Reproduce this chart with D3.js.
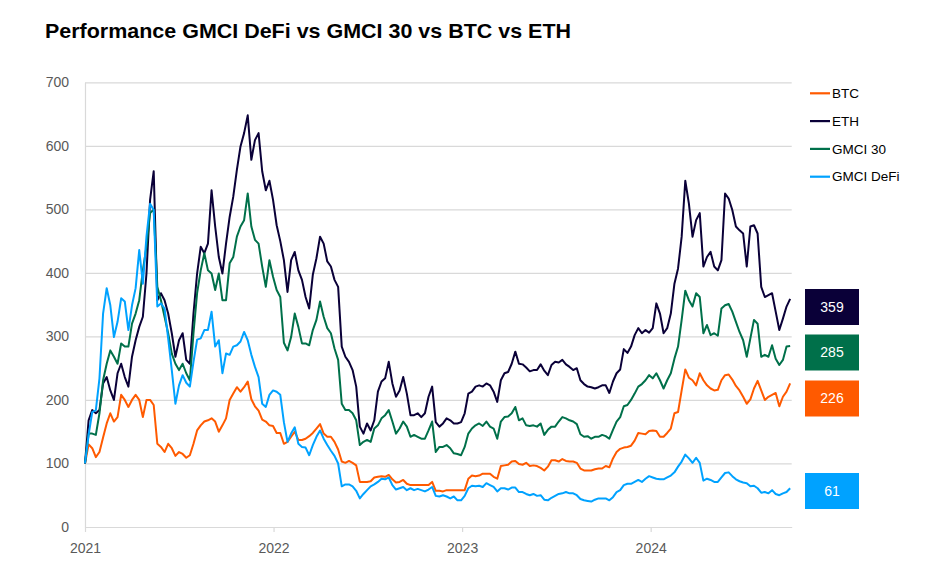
<!DOCTYPE html>
<html><head><meta charset="utf-8">
<script src="https://cdn.jsdelivr.net/npm/d3@7"></script>
<style>body{margin:0;background:#fff}svg{display:block}</style>
</head><body>
<svg id="chart" width="930" height="573"></svg>
<script>
// ---------------- DATA ----------------
const titleText = "Performance GMCI DeFi vs GMCI 30 vs BTC vs ETH";
const startDate = "2021-01-01";   // first weekly observation (indexed to 100)
const endDate = "2024-09-30";     // end of x axis
const stepDays = 7;               // weekly observations
const seriesNames = ["BTC", "ETH", "GMCI 30", "GMCI DeFi"];
const seriesColors = ["#ff5a00", "#0a0038", "#00704a", "#00a2ff"];

const btc = [
100,130,124,110,118,141,163,179,166,173,
208,200,189,200,208,200,173,200,200,192,
131,126,118,131,124,112,118,115,109,113,
131,152,160,166,168,171,166,150,160,171,
200,210,220,213,220,229,201,190,183,169,
166,160,159,148,148,131,134,142,150,137,
137,139,143,148,155,162,147,142,142,134,
122,103,101,104,101,97,71,71,71,72,
78,79,80,79,82,75,70,71,74,68,
66,66,66,66,66,66,71,57,57,56,
58,58,58,58,58,58,76,81,80,81,
84,84,84,79,76,96,97,98,103,104,
99,98,101,96,97,96,93,89,95,105,
105,103,107,104,103,103,101,92,89,89,
89,91,92,92,96,94,108,118,123,125,
126,128,136,148,147,146,151,152,151,142,
142,148,155,179,181,215,248,235,231,223,
242,231,223,218,215,216,231,239,240,232,
222,215,205,194,201,218,230,215,200,205,
208,211,190,205,213,226];

const eth = [
100,168,184,179,184,226,236,215,200,242,
257,236,221,268,294,315,331,399,515,560,
357,368,357,336,305,268,294,305,263,257,
336,399,441,431,446,530,473,425,399,446,
488,520,562,599,620,648,578,609,620,560,
530,545,515,475,450,420,370,420,433,404,
389,362,344,397,423,457,446,418,410,389,
378,284,268,260,247,221,158,147,163,152,
168,213,229,234,260,226,205,215,236,210,
176,176,179,173,179,205,221,165,158,163,
171,168,163,163,165,179,210,213,221,223,
221,226,223,213,197,231,242,244,257,276,
257,256,251,245,247,247,256,246,239,255,
260,259,263,256,252,247,250,231,225,221,
220,218,220,223,223,211,229,242,248,280,
274,284,302,313,305,310,306,313,352,336,
305,313,336,383,407,457,545,509,457,483,
494,410,425,433,410,404,420,525,517,499,
473,467,462,410,473,475,462,378,362,365,
368,339,310,328,347,359];

const gmci30 = [
100,147,147,145,179,231,257,278,268,257,
289,284,284,320,336,357,404,441,494,500,
378,357,331,305,273,257,247,257,242,231,
305,368,404,431,404,399,373,399,357,357,
415,425,457,473,483,525,473,452,446,410,
378,420,394,373,362,290,278,299,336,315,
289,289,286,310,326,355,331,313,305,281,
263,194,184,184,179,168,129,134,137,134,
155,160,171,176,184,166,147,155,166,158,
142,145,142,139,139,152,166,118,126,126,
129,124,116,115,113,126,147,155,160,163,
159,166,158,155,139,166,173,174,179,189,
168,171,160,159,160,158,163,145,153,158,
158,166,173,171,168,166,162,146,142,143,
139,142,142,145,143,139,153,166,173,190,
192,200,210,221,225,231,239,234,242,231,
218,231,242,265,284,326,372,357,347,368,
362,305,318,302,305,301,344,349,351,339,
323,307,294,268,297,326,320,268,271,268,
286,265,255,263,284,285];

const gmciDefi = [
100,145,181,184,234,336,376,349,299,323,
360,355,310,349,376,436,383,457,509,499,
347,352,344,297,247,194,223,239,227,221,
260,295,297,310,310,339,284,294,242,273,
271,284,286,292,307,294,271,252,236,194,
189,208,215,213,208,165,134,147,157,131,
126,125,113,129,142,152,139,129,120,112,
100,64,67,67,64,57,45,52,58,64,
67,71,76,75,78,66,59,61,63,58,
61,58,60,58,56,59,63,49,48,50,
48,45,48,42,42,49,61,65,64,65,
63,69,66,63,56,61,61,59,62,62,
55,55,52,50,52,49,50,43,42,46,
49,52,53,55,53,53,50,44,42,41,
40,43,45,45,45,42,47,55,58,66,
68,68,71,74,71,76,80,78,76,75,
75,78,81,86,95,103,114,108,101,109,
101,73,76,74,71,71,78,85,86,80,
75,72,70,69,64,65,61,54,55,53,
58,52,50,53,55,61];

const yTicks = [0, 100, 200, 300, 400, 500, 600, 700];
const xTickLabels = ["2021", "2022", "2023", "2024"];
const lastValueLabels = ["226", "359", "285", "61"];   // BTC, ETH, GMCI 30, GMCI DeFi

// ---------------- LAYOUT ----------------
const W = 930, H = 573;
const plot = {left: 85, right: 791.7, top: 82.3, bottom: 527};
const boxCenters = {"ETH": 307, "GMCI 30": 352.5, "BTC": 398.5, "GMCI DeFi": 491};
const drawOrder = ["BTC", "ETH", "GMCI 30", "GMCI DeFi"];
const gridColor = "#d9d9d9";
const labelFont = "'Liberation Sans', Arial, sans-serif";

const svg = d3.select("#chart");
const parse = d3.utcParse("%Y-%m-%d");
const t0 = parse(startDate);
const dates = btc.map((_, i) => d3.utcDay.offset(t0, i * stepDays));
const values = {"BTC": btc, "ETH": eth, "GMCI 30": gmci30, "GMCI DeFi": gmciDefi};
const colorOf = Object.fromEntries(seriesNames.map((n, i) => [n, seriesColors[i]]));

const x = d3.scaleUtc().domain([t0, parse(endDate)]).range([plot.left, plot.right]);
const y = d3.scaleLinear().domain([0, 700]).range([plot.bottom, plot.top]);

// title
const title = svg.append("text")
  .attr("x", 45).attr("y", 38)
  .attr("font-family", labelFont).attr("font-weight", "bold")
  .attr("font-size", 20.5).attr("fill", "#000")
  .text(titleText);
title.attr("textLength", 526).attr("lengthAdjust", "spacingAndGlyphs");

// y axis + gridlines
const yAxis = svg.append("g").attr("transform", `translate(${plot.left},0)`)
  .call(d3.axisLeft(y).tickValues(yTicks).tickFormat(d3.format("d"))
    .tickSize(-(plot.right - plot.left)).tickSizeOuter(0).tickPadding(16));
yAxis.selectAll("line").attr("stroke", gridColor).attr("stroke-width", 1.2);
yAxis.select(".domain").attr("stroke", gridColor).attr("stroke-width", 1.2);
yAxis.selectAll("text").attr("font-family", labelFont).attr("font-size", 14).attr("fill", "#595959");

// x axis
const yearDates = xTickLabels.map(s => parse(s + "-01-01"));
const xAxis = svg.append("g").attr("transform", `translate(0,${plot.bottom})`)
  .call(d3.axisBottom(x).tickValues(yearDates).tickFormat((d, i) => xTickLabels[i])
    .tickSize(5).tickSizeOuter(0).tickPadding(11));
xAxis.selectAll("line").attr("stroke", gridColor).attr("stroke-width", 1.2);
xAxis.select(".domain").attr("stroke", gridColor).attr("stroke-width", 1.2);
xAxis.selectAll("text").attr("font-family", labelFont).attr("font-size", 14).attr("fill", "#595959");

// lines
const line = d3.line().x((d, i) => x(dates[i])).y(d => y(d)).curve(d3.curveLinear);
drawOrder.forEach(name => {
  svg.append("path").datum(values[name])
    .attr("fill", "none").attr("stroke", colorOf[name]).attr("stroke-width", 2)
    .attr("stroke-linejoin", "round").attr("d", line);
});

// legend
const legend = svg.append("g");
seriesNames.forEach((name, i) => {
  const ly = 93.3 + i * 27.8;
  legend.append("line").attr("x1", 810).attr("x2", 830).attr("y1", ly).attr("y2", ly)
    .attr("stroke", colorOf[name]).attr("stroke-width", 2.2);
  legend.append("text").attr("x", 832).attr("y", ly).attr("dy", "0.35em")
    .attr("font-family", labelFont).attr("font-size", 13.5).attr("fill", "#000")
    .text(name);
});

// last value boxes
seriesNames.forEach((name, i) => {
  const cy = boxCenters[name];
  svg.append("rect").attr("x", 805).attr("y", cy - 18).attr("width", 54).attr("height", 36)
    .attr("fill", colorOf[name]);
  svg.append("text").attr("x", 832).attr("y", cy).attr("dy", "0.35em")
    .attr("text-anchor", "middle").attr("font-family", labelFont).attr("font-size", 14)
    .attr("fill", "#fff").text(lastValueLabels[i]);
});
</script>
</body></html>
